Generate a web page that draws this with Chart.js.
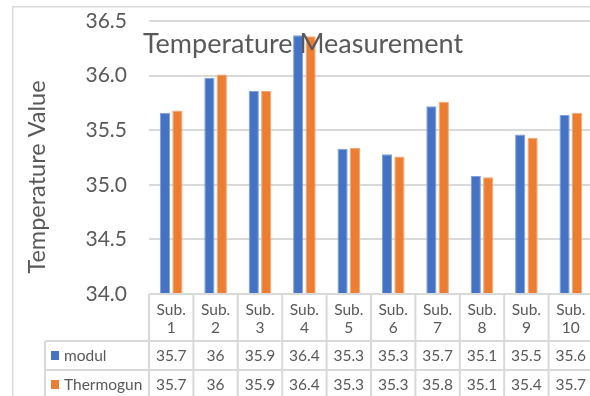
<!DOCTYPE html>
<html>
<head>
<meta charset="utf-8">
<script src="https://cdn.jsdelivr.net/npm/chart.js@4"></script>
<style>
  html, body { margin: 0; padding: 0; background: #ffffff; overflow: hidden; }
  #wrap { position: relative; width: 590px; height: 396px; overflow: hidden; }
  canvas { display: block; }
</style>
</head>
<body>
<div id="wrap"><canvas id="c" width="594" height="396" style="width:594px;height:396px"></canvas></div>
<script>
// ---- data ----
const categories = ["Sub. 1", "Sub. 2", "Sub. 3", "Sub. 4", "Sub. 5", "Sub. 6", "Sub. 7", "Sub. 8", "Sub. 9", "Sub. 10"];
const seriesNames = ["modul", "Thermogun"];
const modulValues = [35.66, 35.98, 35.86, 36.37, 35.33, 35.28, 35.72, 35.08, 35.46, 35.64];
const thermogunValues = [35.68, 36.01, 35.86, 36.36, 35.34, 35.26, 35.76, 35.07, 35.43, 35.66];
const yTicks = [34.0, 34.5, 35.0, 35.5, 36.0, 36.5];
const chartTitle = "Temperature Measurement";
const yAxisTitle = "Temperature Value";

const BLUE = "#4472C4", ORANGE = "#ED7D31";
const TEXT = "#595959", LINE = "#d9d9d9";
const FONT = "Lato, 'Open Sans', sans-serif";

function fmtTable(v) { return String(Math.round(v * 10) / 10); }

const extras = {
  id: "extras",
  beforeDraw(chart) {
    const ctx = chart.ctx;
    ctx.save();
    ctx.strokeStyle = LINE;
    ctx.lineWidth = 1.5;
    ctx.beginPath();
    ctx.moveTo(12.75, 6.75); ctx.lineTo(12.75, 396);
    ctx.moveTo(12, 6.75); ctx.lineTo(594, 6.75);
    ctx.stroke();
    ctx.restore();
  },
  afterDraw(chart) {
    const ctx = chart.ctx;
    const xs = chart.scales.x;
    const area = chart.chartArea;
    const n = categories.length;
    const cw = (area.right - area.left) / n;
    const top = area.bottom;
    const r1 = top + 47, r2 = r1 + 29, r3 = r2 + 29;
    const tableLeft = 45;
    ctx.save();
    // table lines
    ctx.strokeStyle = LINE;
    ctx.lineWidth = 2;
    ctx.beginPath();
    ctx.moveTo(area.left, top); ctx.lineTo(area.right, top);
    ctx.moveTo(tableLeft, r1); ctx.lineTo(area.right, r1);
    ctx.moveTo(tableLeft, r2); ctx.lineTo(area.right, r2);
    ctx.moveTo(tableLeft, r3); ctx.lineTo(area.right, r3);
    ctx.moveTo(tableLeft, r1); ctx.lineTo(tableLeft, 400);
    for (let i = 0; i <= n; i++) {
      const x = area.left + i * cw;
      ctx.moveTo(x, top); ctx.lineTo(x, 400);
    }
    ctx.stroke();

    // header + values
    ctx.fillStyle = TEXT;
    ctx.textAlign = "center";
    ctx.textBaseline = "middle";
    ctx.font = "15.5px " + FONT;
    categories.forEach((c, i) => {
      const cx = xs.getPixelForValue(i);
      const parts = c.split(" ");
      ctx.fillText(parts[0], cx, top + 16);
      ctx.fillText(parts[1], cx, top + 34);
      ctx.fillText(fmtTable(modulValues[i]), cx, (r1 + r2) / 2);
      ctx.fillText(fmtTable(thermogunValues[i]), cx, (r2 + r3) / 2);
    });

    // row labels with swatches
    ctx.textAlign = "left";
    ctx.fillStyle = BLUE;
    ctx.fillRect(51, (r1 + r2) / 2 - 4.5, 8, 9);
    ctx.fillStyle = ORANGE;
    ctx.fillRect(51, (r2 + r3) / 2 - 4.5, 8, 9);
    ctx.fillStyle = TEXT;
    ctx.fillText(seriesNames[0], 64, (r1 + r2) / 2);
    ctx.fillText(seriesNames[1], 64, (r2 + r3) / 2);

    // y axis title
    ctx.save();
    ctx.translate(37, 177);
    ctx.rotate(-Math.PI / 2);
    ctx.textAlign = "center";
    ctx.font = "23.5px " + FONT;
    ctx.fillText(yAxisTitle, 0, 0);
    ctx.restore();

    // chart title
    ctx.textAlign = "center";
    ctx.textBaseline = "alphabetic";
    ctx.font = "27px " + FONT;
    ctx.fillText(chartTitle, 303, 53);
    ctx.restore();
  }
};

new Chart(document.getElementById("c"), {
  type: "bar",
  data: {
    labels: categories,
    datasets: [
      { label: seriesNames[0], data: modulValues, backgroundColor: BLUE, borderColor: "#7f9fd8", borderWidth: 1,
        categoryPercentage: 0.56, barPercentage: 0.82 },
      { label: seriesNames[1], data: thermogunValues, backgroundColor: ORANGE, borderColor: "#f3a673", borderWidth: 1,
        categoryPercentage: 0.56, barPercentage: 0.82 }
    ]
  },
  options: {
    responsive: false,
    devicePixelRatio: 1,
    animation: false,
    layout: { padding: { top: 21, right: 1, bottom: 102, left: 0 } },
    plugins: { legend: { display: false }, title: { display: false }, tooltip: { enabled: false } },
    scales: {
      x: { display: false },
      y: {
        min: 34, max: 36.5,
        afterFit(scale) { scale.width = 149; },
        afterBuildTicks(scale) { scale.ticks = yTicks.map(v => ({ value: v })); },
        grid: { color: LINE, lineWidth: 2, drawTicks: true, tickLength: 22, tickColor: "rgba(0,0,0,0)" },
        border: { display: false },
        ticks: {
          padding: 0,
          color: TEXT,
          font: { family: FONT, size: 21 },
          callback: v => Number(v).toFixed(1)
        }
      }
    }
  },
  plugins: [extras]
});
</script>
</body>
</html>
